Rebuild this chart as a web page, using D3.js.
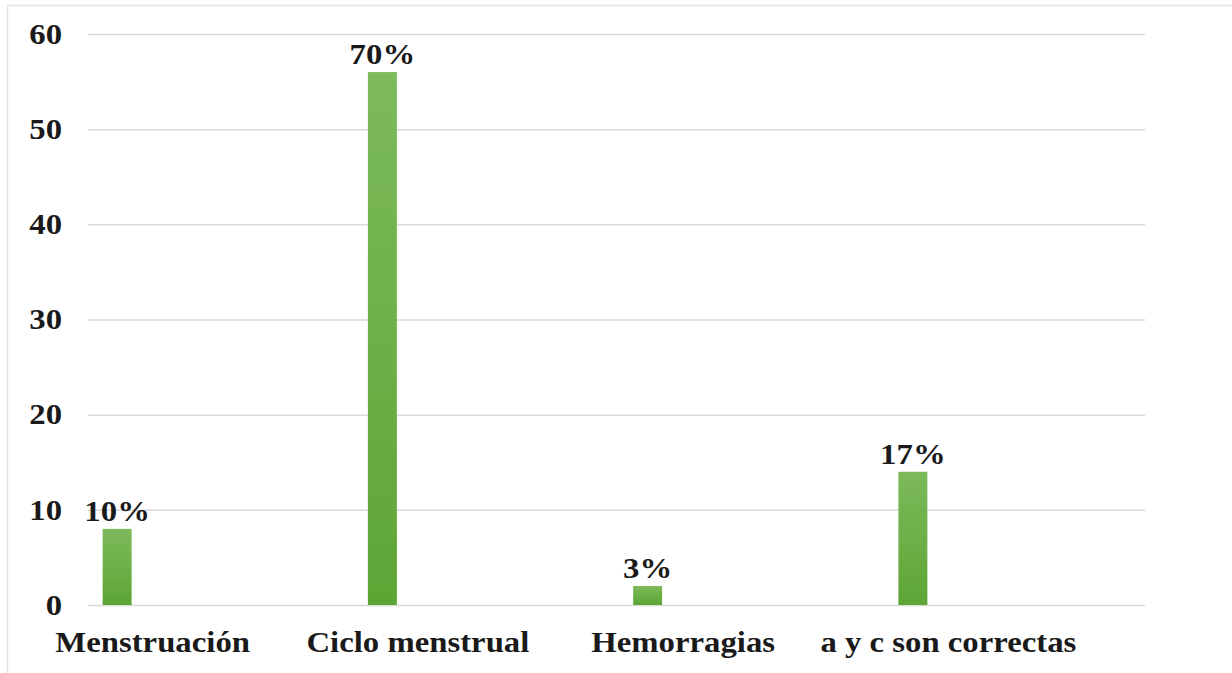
<!DOCTYPE html>
<html>
<head>
    <meta charset="utf-8">
    <title>Conocimiento</title>
    <script src="https://d3js.org/d3.v7.min.js"></script>
    <style>
        body { margin: 0; background: #fff; }
        text { font-family: "Liberation Serif", "Times New Roman", serif; font-weight: bold; fill: #1a1a1a; }
    </style>
</head>
<body>
    <div id="grafico"></div>
    <script>

        // datos
        var categorias = ["Menstruación", "Ciclo menstrual", "Hemorragias", "a y c son correctas"];
        var valores = [8, 56, 2, 14];
        var etiquetas = ["10%", "70%", "3%", "17%"];
        var ticks = [0, 10, 20, 30, 40, 50, 60];

        var width = 1232;
        var height = 673;
        var estirar = "scale(1.13,1)"; // el texto del original esta ensanchado

        var svg = d3.select("#grafico")
            .append("svg")
            .attr("width", width)
            .attr("height", height);

        // marco
        svg.append("rect")
            .attr("x", 7.5).attr("y", 5.5)
            .attr("width", 1240).attr("height", 700)
            .attr("fill", "none")
            .attr("stroke", "#e3e3e3")
            .attr("stroke-width", 1.5);

        var x = d3.scaleBand()
            .domain(categorias)
            .range([20, 1081]);

        var y = d3.scaleLinear()
            .domain([0, 60])
            .range([605, 34]);

        // lineas de cuadricula
        var ejeY = svg.append("g")
            .attr("transform", "translate(88,0)")
            .call(d3.axisLeft(y).tickValues(ticks).tickSize(-1057).tickPadding(0));
        ejeY.select(".domain").remove();
        ejeY.selectAll(".tick line").attr("stroke", "#d9d9d9").attr("stroke-width", 1.5);
        ejeY.selectAll(".tick text")
            .style("font-size", "29px")
            .attr("x", -23)
            .attr("transform", estirar);

        // degradado de las barras
        var grad = svg.append("defs").append("linearGradient")
            .attr("id", "verde")
            .attr("x1", 0).attr("y1", 0).attr("x2", 0).attr("y2", 1);
        grad.append("stop").attr("offset", "0%").attr("stop-color", "#7dba5b");
        grad.append("stop").attr("offset", "100%").attr("stop-color", "#5da535");

        var anchoBarra = 29;
        var desplaz = -50;

        svg.selectAll("rect.barra")
            .data(valores)
            .enter()
            .append("rect")
            .attr("class", "barra")
            .attr("x", function (d, i) { return x(categorias[i]) + x.bandwidth() / 2 + desplaz; })
            .attr("y", function (d) { return y(d); })
            .attr("width", anchoBarra)
            .attr("height", function (d) { return y(0) - y(d); })
            .attr("fill", "url(#verde)");

        // etiquetas de datos
        svg.selectAll("g.etiqueta")
            .data(valores)
            .enter()
            .append("g")
            .attr("class", "etiqueta")
            .attr("transform", function (d, i) {
                return "translate(" + (x(categorias[i]) + x.bandwidth() / 2 + desplaz + anchoBarra / 2) + "," + (y(d) - 8) + ")";
            })
            .append("text")
            .attr("text-anchor", "middle")
            .attr("transform", estirar)
            .style("font-size", "29px")
            .text(function (d, i) { return etiquetas[i]; });

        // eje x
        var ejeX = svg.append("g")
            .attr("transform", "translate(0,605)")
            .call(d3.axisBottom(x).tickSize(0).tickPadding(26));
        ejeX.select(".domain").remove();
        ejeX.selectAll(".tick text")
            .style("font-size", "29px")
            .attr("transform", estirar)
            .attr("dy", "0.71em");

    </script>
</body>
</html>
